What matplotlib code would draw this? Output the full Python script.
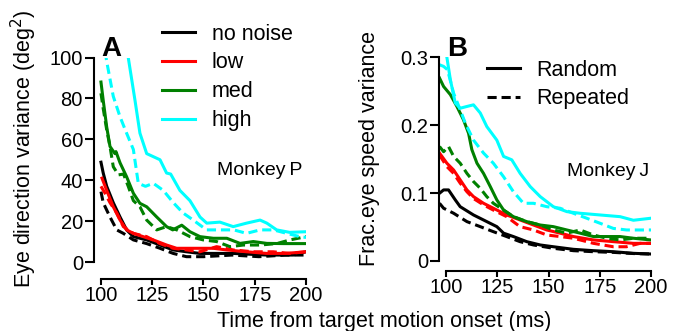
import matplotlib
matplotlib.use("Agg")
import matplotlib as mpl
import matplotlib.pyplot as plt
from matplotlib.lines import Line2D

mpl.rcParams.update({
    "font.family": "sans-serif",
    "font.sans-serif": ["Liberation Sans", "DejaVu Sans"],
    "axes.linewidth": 1.5,
})

# ---- Panel A: eye direction variance (deg^2), Monkey P ----
A_BLACK_T = [100, 101.1, 102.8, 106, 109.3, 112.5, 115.8, 122.3, 128.8, 135.2, 141.7, 148.2, 164.4, 180.7, 193.8, 200]
A_BLACK_V = [48.8, 43.5, 37, 29, 22, 15.7, 12.4, 10.8, 8.3, 5.9, 5.0, 4.2, 4.2, 3.4, 3.4, 5.0]
A_BLACK_D_T = [100, 101.1, 104.4, 107.7, 110.9, 115.8, 122.3, 128.8, 135.2, 141.7, 150, 164, 177, 190, 200]
A_BLACK_D_V = [34.4, 29, 22, 15.7, 14, 10.8, 9, 6.7, 4.2, 2.6, 2.6, 3.4, 2.6, 3.4, 3.4]

A_RED_T = [100.5, 102.8, 106, 109.3, 112.5, 115.8, 120.6, 125.5, 132, 136.9, 142, 148.3, 154.8, 161.3, 171, 180.8, 190, 200]
A_RED_V = [41, 35, 27, 20.5, 15.7, 14, 12.4, 10.8, 8.3, 6.7, 6.7, 6.7, 6.7, 5.9, 5.0, 4.2, 4.2, 5.0]
A_RED_D_T = [100, 102, 104.4, 107.7, 110.9, 115.8, 122.3, 128.8, 135.2, 141.7, 148.2, 156.4, 164.5, 174.3, 184, 192, 200]
A_RED_D_V = [37, 33.6, 29, 24, 17.3, 14, 12.4, 9, 6.7, 5.9, 5.0, 7.5, 5.9, 5.0, 5.0, 4.2, 5.0]

A_GREEN_T = [100, 101.1, 102.8, 104.4, 106.8, 107.3, 109.3, 112.5, 115.8, 119, 122.3, 127.2, 132, 135, 139.4, 143.4, 148.3, 154.8, 161.4, 167.8, 174.3, 180.9, 189, 200]
A_GREEN_V = [88, 79, 66, 56.5, 53, 54, 48.5, 41.7, 33.6, 28.7, 27, 22, 17.3, 15.7, 18, 14.8, 12.4, 11.6, 11.6, 9.1, 10, 9.1, 9, 9]
A_GREEN_D_T = [100, 101.1, 102.8, 104.4, 106, 108.5, 111, 113.3, 115.8, 119, 122.3, 127.2, 132, 137, 143.4, 149.9, 156.4, 162.9, 169.4, 177.6, 185.7, 192.2, 200]
A_GREEN_D_V = [82.5, 75, 64.6, 56.5, 46.6, 42.6, 43, 37, 30, 27, 20.5, 15.7, 17.3, 15.7, 12.4, 10.8, 10, 7.5, 8.3, 8.3, 9, 10.8, 12.4]

A_CYAN_T = [110, 113.3, 116.6, 119, 122.3, 128.8, 132, 134, 138.5, 143.4, 148.3, 151.6, 158, 164.5, 171, 177.6, 180.9, 185.7, 192, 200]
A_CYAN_V = [125, 100, 79, 63, 53, 50, 43.5, 43, 35, 30, 22, 19, 19.5, 17.3, 19, 20.5, 19, 15.7, 14.5, 14.8]
A_CYAN_D_T = [101, 102.8, 106, 109.3, 112.5, 115.8, 118.2, 121.7, 125.5, 130.4, 135.3, 140, 145, 151.5, 158.3, 164.8, 171, 177.6, 184.1, 190.6, 197, 200]
A_CYAN_D_V = [110, 98, 81, 71, 63, 55, 38.5, 37, 38.5, 35, 29, 24, 20.5, 15.7, 15.7, 15.7, 14, 15.7, 15.7, 14, 12.4, 12]

# ---- Panel B: fractional eye speed variance, Monkey J ----
B_BLACK_T = [96.7, 98.7, 101.1, 104.4, 106.8, 113.3, 119.8, 124.7, 128, 132.8, 139.3, 145.9, 152.3, 162.1, 171.9, 181.6, 191.4, 200]
B_BLACK_V = [0.0998, 0.1047, 0.1047, 0.090, 0.080, 0.0678, 0.058, 0.0506, 0.041, 0.036, 0.0285, 0.0236, 0.021, 0.0172, 0.0152, 0.0137, 0.0113, 0.0103]
B_BLACK_D_T = [96.7, 98.7, 103.6, 110.1, 116.6, 123, 129.5, 136, 142.6, 152.3, 162.1, 171.9, 181.6, 191.4, 200]
B_BLACK_D_V = [0.085, 0.0777, 0.0703, 0.058, 0.0506, 0.0432, 0.036, 0.0285, 0.0236, 0.0187, 0.0152, 0.0137, 0.0127, 0.011, 0.0103]

B_RED_T = [96.7, 100.3, 103.6, 106.8, 110.1, 113.3, 118.2, 123, 129.5, 136, 142.6, 149.1, 155.6, 162.1, 171.9, 181.6, 191.4, 200]
B_RED_V = [0.159, 0.144, 0.134, 0.1195, 0.1047, 0.0948, 0.085, 0.0777, 0.0678, 0.0605, 0.053, 0.0457, 0.041, 0.036, 0.031, 0.0285, 0.026, 0.026]
B_RED_D_T = [96.7, 100.3, 103.6, 106.8, 110.1, 113.3, 118.2, 123, 129.5, 136, 142.6, 149.1, 155.6, 162.1, 171.9, 181.6, 188, 194.7, 200]
B_RED_D_V = [0.156, 0.139, 0.129, 0.1146, 0.102, 0.092, 0.0826, 0.075, 0.0653, 0.0506, 0.0457, 0.0383, 0.036, 0.0335, 0.026, 0.021, 0.021, 0.026, 0.026]

B_GREEN_T = [96.7, 98.7, 102, 105.2, 108.4, 110.9, 112.5, 115, 118.2, 121.5, 124.7, 128, 132.8, 139.3, 145.9, 152.3, 158.9, 165.4, 171.9, 178.4, 184.9, 191.4, 200]
B_GREEN_V = [0.2695, 0.257, 0.245, 0.2276, 0.208, 0.188, 0.164, 0.144, 0.129, 0.1096, 0.090, 0.075, 0.0653, 0.058, 0.053, 0.0506, 0.0457, 0.041, 0.036, 0.036, 0.036, 0.0335, 0.031]
B_GREEN_D_T = [96.7, 98.7, 101.1, 103.6, 106.8, 110.1, 113.3, 116.6, 119.8, 123, 128, 132.8, 139.3, 145.9, 152.3, 158.9, 165.4, 171.9, 178.4, 184.9, 191.4, 200]
B_GREEN_D_V = [0.1686, 0.161, 0.1686, 0.154, 0.144, 0.129, 0.117, 0.107, 0.0948, 0.085, 0.075, 0.0653, 0.058, 0.053, 0.0457, 0.041, 0.0457, 0.0383, 0.0335, 0.031, 0.0335, 0.0335]

B_CYAN_T = [99, 100.3, 102, 104.4, 106.8, 110.1, 113.3, 116.6, 119.8, 124.7, 128, 132, 136.1, 141, 145.9, 152.3, 158.9, 165.4, 175.1, 184.9, 191.4, 200]
B_CYAN_V = [0.33, 0.30, 0.267, 0.2326, 0.225, 0.2276, 0.230, 0.218, 0.198, 0.178, 0.154, 0.149, 0.129, 0.1096, 0.0948, 0.080, 0.0727, 0.0703, 0.0678, 0.0653, 0.060, 0.063]
B_CYAN_D_T = [96.7, 98.7, 100.6, 103.6, 106.8, 109.3, 113.3, 118.2, 123, 128, 132.8, 137.7, 142.6, 149.1, 155.6, 162.1, 168.6, 175.1, 181.6, 188.1, 200]
B_CYAN_D_V = [0.289, 0.2866, 0.2817, 0.247, 0.2227, 0.203, 0.178, 0.159, 0.144, 0.124, 0.102, 0.085, 0.085, 0.080, 0.0777, 0.0703, 0.063, 0.0556, 0.048, 0.0457, 0.0457]

NOISE_LABELS = ["no noise", "low", "med", "high"]
COLORS = ["#000000", "#FF0000", "#008000", "#00FFFF"]

PANEL_A = [
    (A_BLACK_T, A_BLACK_V, A_BLACK_D_T, A_BLACK_D_V),
    (A_RED_T, A_RED_V, A_RED_D_T, A_RED_D_V),
    (A_GREEN_T, A_GREEN_V, A_GREEN_D_T, A_GREEN_D_V),
    (A_CYAN_T, A_CYAN_V, A_CYAN_D_T, A_CYAN_D_V),
]
PANEL_B = [
    (B_BLACK_T, B_BLACK_V, B_BLACK_D_T, B_BLACK_D_V),
    (B_RED_T, B_RED_V, B_RED_D_T, B_RED_D_V),
    (B_GREEN_T, B_GREEN_V, B_GREEN_D_T, B_GREEN_D_V),
    (B_CYAN_T, B_CYAN_V, B_CYAN_D_T, B_CYAN_D_V),
]

W, H = 683, 331
LW = 2.2
DASH = (0, (3.0, 1.6))
FS_TICK = 14.5
FS_LABEL = 15.5


def px(x, y):
    return x / W, 1 - y / H


def style_axes(ax, ymax, yticks, yticklabels, bottom_offset_px):
    ax.set_xlim(96.6, 200)
    ax.set_ylim(0, ymax)
    for s in ("top", "right"):
        ax.spines[s].set_visible(False)
    ax.spines["left"].set_bounds(0, ymax)
    ax.spines["bottom"].set_bounds(100, 200)
    ax.spines["bottom"].set_position(("outward", bottom_offset_px * 0.72))
    ax.set_xticks([100, 125, 150, 175, 200])
    ax.set_yticks(yticks)
    ax.set_yticklabels(yticklabels)
    ax.tick_params(axis="x", length=4.2, width=1.5, labelsize=FS_TICK, pad=0.5)
    ax.tick_params(axis="y", length=6.5, width=1.5, labelsize=FS_TICK, pad=1.5)


def draw(ax, series):
    for (t, v, td, vd), c in zip(series, COLORS):
        ax.plot(td, vd, color=c, lw=LW, linestyle=DASH)
        ax.plot(t, v, color=c, lw=LW)


fig = plt.figure(figsize=(W / 100, H / 100), dpi=100)

l, b = px(94, 262)
r, t = px(306, 57.5)
axA = fig.add_axes([l, b, r - l, t - b])
draw(axA, PANEL_A)
style_axes(axA, 100, [0, 20, 40, 60, 80, 100], ["0", "20", "40", "60", "80", "100"], 17)

l, b = px(439.3, 261)
r, t = px(651, 57.3)
axB = fig.add_axes([l, b, r - l, t - b])
draw(axB, PANEL_B)
style_axes(axB, 0.3, [0, 0.1, 0.2, 0.3], ["0", "0.1", "0.2", "0.3"], 10)

# legends
leg_kw = dict(loc="upper left", frameon=False, fontsize=FS_LABEL, handlelength=1.55,
              handletextpad=0.75, labelspacing=0.37, borderpad=0, borderaxespad=0)
handles = [Line2D([], [], color=c, lw=LW) for c in COLORS]
fig.legend(handles, NOISE_LABELS, bbox_to_anchor=px(162, 23.5), **leg_kw)
hB = [Line2D([], [], color="k", lw=LW), Line2D([], [], color="k", lw=LW, linestyle=DASH)]
fig.legend(hB, ["Random", "Repeated"], bbox_to_anchor=px(487, 59.5), **leg_kw)

# annotations
fig.text(*px(217, 170), "Monkey\u2009P", fontsize=14, ha="left", va="center")
fig.text(*px(567, 172), "Monkey\u2009J", fontsize=14, ha="left", va="center")
fig.text(*px(101, 49), "A", fontsize=20, fontweight="bold", ha="left", va="center")
fig.text(*px(447, 49), "B", fontsize=20, fontweight="bold", ha="left", va="center")

fig.text(*px(24, 149), "Eye direction variance (deg$^2$)", fontsize=FS_LABEL, rotation=90,
         ha="center", va="center")
fig.text(*px(370, 149), "Frac.eye speed variance", fontsize=FS_LABEL, rotation=90,
         ha="center", va="center")
fig.text(*px(384, 321), "Time from target motion onset (ms)", fontsize=FS_LABEL,
         ha="center", va="center")

fig.savefig("out.png", dpi=100)
